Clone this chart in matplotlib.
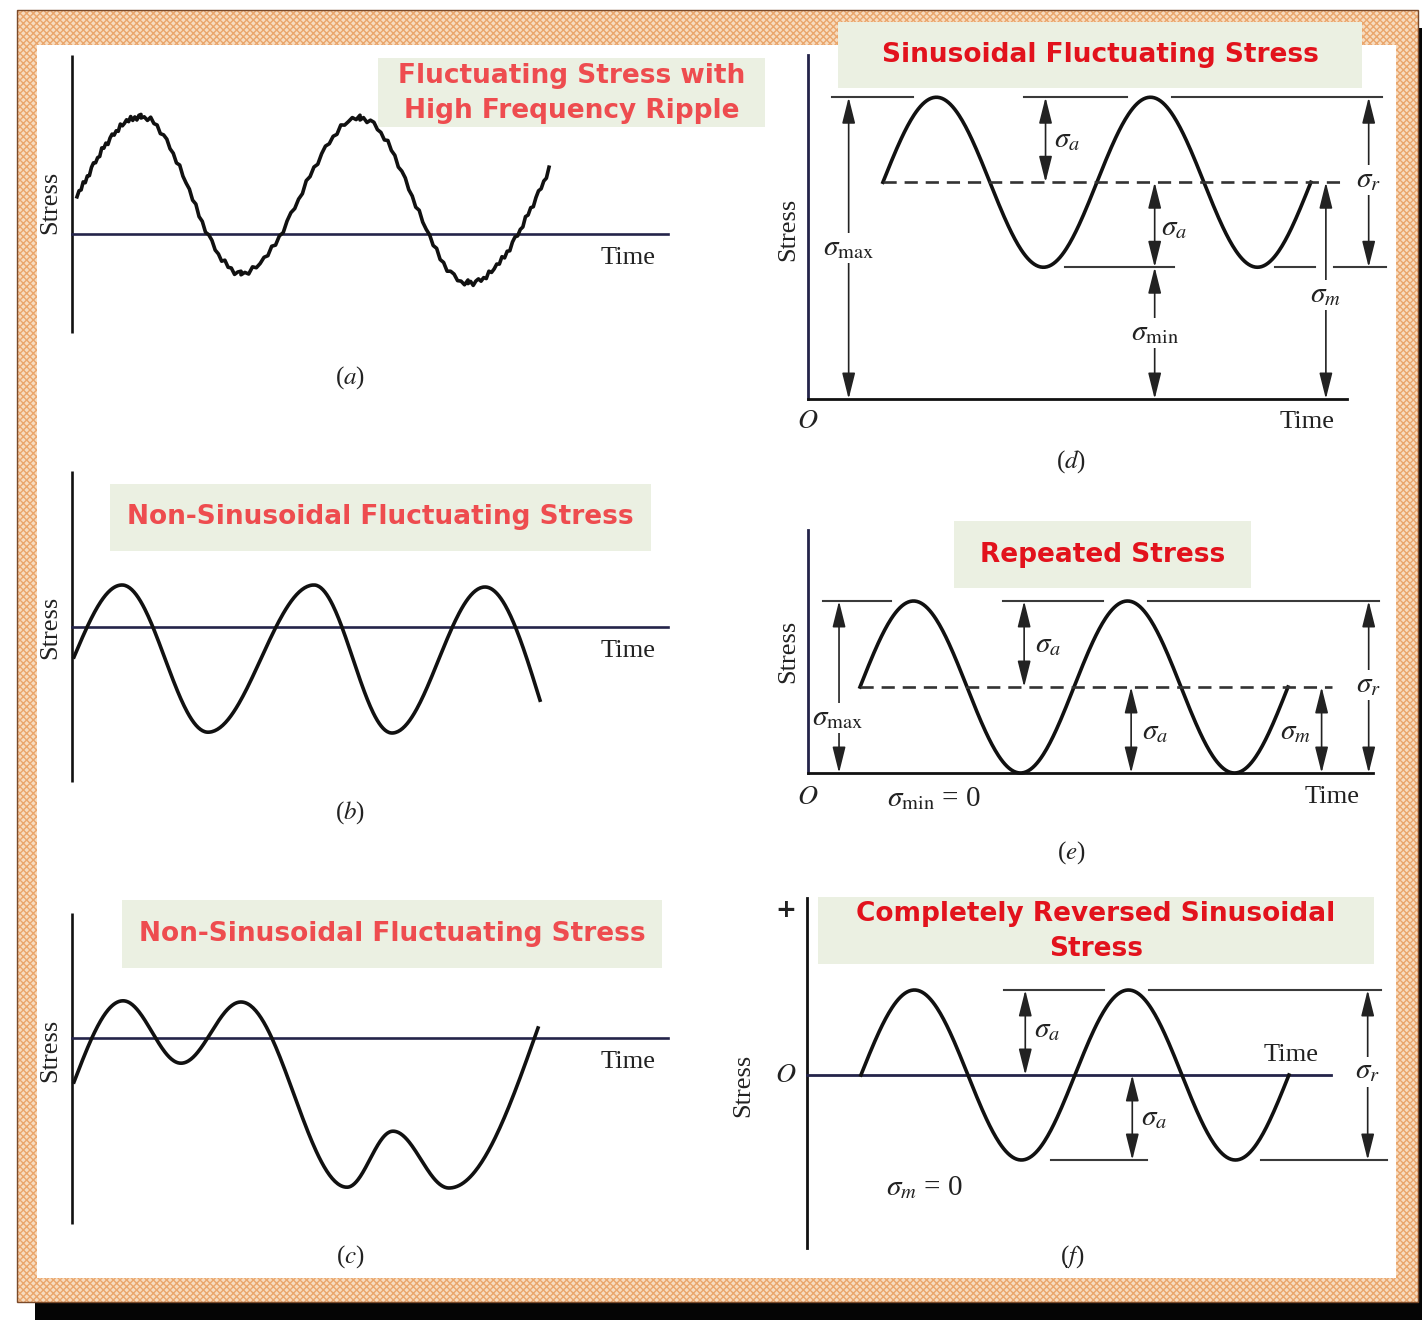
import numpy as np
import matplotlib.pyplot as plt
from matplotlib.patches import Rectangle

plt.rcParams['mathtext.fontset'] = 'stix'
plt.rcParams['hatch.linewidth'] = 1.0

W, H = 1422, 1320

# ---- data -------------------------------------------------------------
# (a) ripple-loaded fluctuating stress: turning points (time, stress)
a_t = [0.05, 0.69, 1.69, 2.88, 3.96, 4.77]
a_s = [0.93, 2.93, -0.98, 2.90, -1.23, 1.60]
a_ripple = [0.0, 0.05, -0.03, 0.07, -0.05, 0.02, -0.07, 0.04, 0.06, -0.03, 0.01,
            -0.05, 0.08, -0.01, 0.04, -0.07, 0.02, 0.05, -0.04, 0.01, -0.06, 0.07, -0.02]

# (b) non-sinusoidal
b_t = [0.02, 0.50, 1.36, 2.42, 3.20, 4.13, 4.68]
b_s = [-0.75, 1.05, -2.63, 1.05, -2.65, 1.00, -1.83]

# (c) non-sinusoidal, irregular
c_t = [0.02, 0.51, 1.09, 1.69, 2.75, 3.21, 3.77, 4.66]
c_s = [-1.10, 0.93, -0.63, 0.90, -3.73, -2.33, -3.75, 0.25]

# (d) sinusoidal fluctuating: mean and amplitude (stress units), start (periods)
d_mean, d_amp, d_t0 = 2.55, 1.0, 0.35
# (e) repeated: sigma_min = 0
e_mean, e_amp, e_t0 = 1.0, 1.0, 0.243
# (f) completely reversed: sigma_m = 0
f_mean, f_amp, f_t0 = 0.0, 1.0, 0.252
n_periods = 2

titles = {
    'a': "Fluctuating Stress with\nHigh Frequency Ripple",
    'b': "Non-Sinusoidal Fluctuating Stress",
    'c': "Non-Sinusoidal Fluctuating Stress",
    'd': "Sinusoidal Fluctuating Stress",
    'e': "Repeated Stress",
    'f': "Completely Reversed Sinusoidal\nStress",
}

# ---- styles -----------------------------------------------------------
INK = '#111111'
NAVY = '#24244a'
GREY = '#3a3a3a'
BOX = '#ebf0e2'
RED_L = '#ee4c4f'
RED_R = '#e2121c'
SERIF = 'Liberation Serif'
TITLE_FONT = 'DejaVu Sans'


def through_extrema(ts, ys, n=80):
    xs, vs = [], []
    last = len(ts) - 2
    for i in range(len(ts) - 1):
        f = np.linspace(0, 1, n)
        if i == 0:
            w = np.sin(np.pi / 2 * f)
        elif i == last:
            w = 1 - np.cos(np.pi / 2 * f)
        else:
            w = (1 - np.cos(np.pi * f)) / 2
        xs.append(ts[i] + (ts[i + 1] - ts[i]) * f)
        vs.append(ys[i] + (ys[i + 1] - ys[i]) * w)
    return np.concatenate(xs), np.concatenate(vs)


def panel(fig, ox, oy, sx, sy):
    ax = fig.add_axes([0, 0, 1, 1])
    ax.set_xlim(-ox / sx, (W - ox) / sx)
    ax.set_ylim((oy - H) / sy, oy / sy)
    ax.axis('off')
    ax.patch.set_visible(False)
    return ax


def darrow(ax, x, y0, y1):
    ax.annotate('', xy=(x, y1), xytext=(x, y0),
                arrowprops=dict(arrowstyle='<|-|>,head_length=0.8,head_width=0.2',
                                color='#222222', lw=1.2, shrinkA=0, shrinkB=0,
                                mutation_scale=20))


def lab(ax, x, y, s, size=21, bg=True, family=SERIF, **kw):
    bbox = dict(facecolor='white', edgecolor='none', pad=1.5) if bg else None
    ax.text(x, y, s, fontsize=size, ha='center', va='center', color='#222222',
            family=family, bbox=bbox, **kw)


fig = plt.figure(figsize=(W / 100, H / 100), dpi=100)
fig.patch.set_facecolor('white')

# ---- frame ------------------------------------------------------------
bg = fig.add_axes([0, 0, 1, 1])
bg.set_xlim(0, W)
bg.set_ylim(H, 0)
bg.axis('off')
bg.add_patch(Rectangle((35, 28), W - 35, H - 28, facecolor='#050505', edgecolor='none'))
bg.add_patch(Rectangle((17, 10), 1401, 1292, facecolor='#f7dcc0', edgecolor='#eaa66c',
                       hatch='xxxxx', lw=0))
bg.add_patch(Rectangle((17, 10), 1401, 1292, facecolor='none', edgecolor='#7a4a2a', lw=1))
bg.add_patch(Rectangle((37, 45), 1359, 1233, facecolor='white', edgecolor='none'))

title_boxes = {
    'a': (378, 58, 387, 69, RED_L),
    'b': (110, 484, 541, 67, RED_L),
    'c': (122, 900, 540, 68, RED_L),
    'd': (838, 22, 524, 66, RED_R),
    'e': (954, 521, 297, 67, RED_R),
    'f': (818, 897, 556, 67, RED_R),
}
for k, (x, y, w, h, col) in title_boxes.items():
    bg.add_patch(Rectangle((x, y), w, h, facecolor=BOX, edgecolor='none'))
    bg.text(x + w / 2, y + h / 2 + (1 if '\n' in titles[k] else 0), titles[k],
            ha='center', va='center', color=col,
            fontsize=19, family=TITLE_FONT, weight='bold', linespacing=1.42)

# ---- (a), (b), (c) ----------------------------------------------------
left_panels = [
    ('a', 234, a_t, a_s, (4.48, -2.48), 0.80, -3.6),
    ('b', 627, b_t, b_s, (3.9, -3.88), -0.02, -4.65),
    ('c', 1038, c_t, c_s, (3.12, -4.65), -0.3, -5.47),
]
for key, oy, ts, ss, (top, bot), stress_y, tag_y in left_panels:
    ax = panel(fig, 72, oy, 100, 40)
    ax.plot([0, 0], [bot, top], color=INK, lw=1.9, solid_capstyle='butt')
    ax.plot([0, 5.96], [0, 0], color=NAVY, lw=1.9)
    if key == 'a':
        x, y = through_extrema(ts, ss, n=32)
        y = y + np.resize(a_ripple, len(y))
        ax.plot(x, y, color=INK, lw=2.6, solid_joinstyle='round')
    else:
        x, y = through_extrema(ts, ss, n=80)
        ax.plot(x, y, color=INK, lw=2.6)
    lab(ax, 5.56, -0.6, 'Time', size=19, bg=False)
    lab(ax, -0.22, stress_y, 'Stress', size=19, bg=False, rotation=90)
    lab(ax, 2.78, tag_y, '($%s$)' % key, size=18, bg=False)

# ---- (d) sinusoidal fluctuating --------------------------------------
ax = panel(fig, 808, 399, 214, 85)
smax, smin = d_mean + d_amp, d_mean - d_amp
ax.plot([0, 0], [0, 4.05], color=NAVY, lw=2.0)
ax.plot([0, 2.52], [0, 0], color=INK, lw=2.0)
t = np.linspace(d_t0, d_t0 + n_periods, 400)
ax.plot(t, d_mean + d_amp * np.sin(2 * np.pi * (t - d_t0)), color=INK, lw=2.6)
ax.plot([d_t0, 2.49], [d_mean, d_mean], color='#333333', lw=1.9, ls=(0, (5, 3)))
for x0, x1 in [(0.11, 0.49), (1.01, 1.49), (1.70, 2.68)]:
    ax.plot([x0, x1], [smax, smax], color=GREY, lw=1.5)
for x0, x1 in [(1.20, 1.71), (2.18, 2.37), (2.46, 2.70)]:
    ax.plot([x0, x1], [smin, smin], color=GREY, lw=1.5)
darrow(ax, 0.19, 0, smax)
darrow(ax, 1.11, d_mean, smax)
darrow(ax, 1.62, d_mean, smin)
darrow(ax, 1.62, smin, 0)
darrow(ax, 2.42, 0, d_mean)
darrow(ax, 2.62, smin, smax)
lab(ax, 0.19, 1.78, r'$\sigma_{\rm max}$')
lab(ax, 1.21, 3.05, r'$\sigma_a$', bg=False)
lab(ax, 1.71, 2.01, r'$\sigma_a$', bg=False)
lab(ax, 1.62, 0.78, r'$\sigma_{\rm min}$')
lab(ax, 2.42, 1.22, r'$\sigma_m$')
lab(ax, 2.62, 2.58, r'$\sigma_r$')
lab(ax, 0.0, -0.27, r'$O$', size=20, bg=False)
lab(ax, 2.33, -0.27, 'Time', size=19, bg=False)
lab(ax, 1.23, -0.74, '($d$)', size=18, bg=False)
lab(ax, -0.093, 2.0, 'Stress', size=19, bg=False, rotation=90)

# ---- (e) repeated -----------------------------------------------------
ax = panel(fig, 808, 773, 214, 86)
smax = e_mean + e_amp
ax.plot([0, 0], [0, 2.83], color=NAVY, lw=2.0)
ax.plot([0, 2.64], [0, 0], color=INK, lw=2.0)
t = np.linspace(e_t0, e_t0 + n_periods, 400)
ax.plot(t, e_mean + e_amp * np.sin(2 * np.pi * (t - e_t0)), color=INK, lw=2.6)
ax.plot([e_t0, 2.45], [e_mean, e_mean], color='#333333', lw=1.9, ls=(0, (5, 3)))
for x0, x1 in [(0.07, 0.39), (0.91, 1.38), (1.59, 2.67)]:
    ax.plot([x0, x1], [smax, smax], color=GREY, lw=1.5)
darrow(ax, 0.145, 0, smax)
darrow(ax, 1.01, e_mean, smax)
darrow(ax, 1.51, 0, e_mean)
darrow(ax, 2.40, 0, e_mean)
darrow(ax, 2.62, 0, smax)
lab(ax, 0.14, 0.64, r'$\sigma_{\rm max}$')
lab(ax, 1.12, 1.49, r'$\sigma_a$', bg=False)
lab(ax, 1.62, 0.47, r'$\sigma_a$', bg=False)
lab(ax, 2.28, 0.47, r'$\sigma_m$', bg=False)
lab(ax, 2.62, 1.02, r'$\sigma_r$')
lab(ax, 0.0, -0.28, r'$O$', size=20, bg=False)
lab(ax, 0.59, -0.30, r'$\sigma_{\rm min}$ = 0', bg=False)
lab(ax, 2.45, -0.28, 'Time', size=19, bg=False)
lab(ax, 1.23, -0.92, '($e$)', size=18, bg=False)
lab(ax, -0.093, 1.41, 'Stress', size=19, bg=False, rotation=90)

# ---- (f) completely reversed ------------------------------------------
ax = panel(fig, 807, 1075, 214, 85)
smax, smin = f_mean + f_amp, f_mean - f_amp
ax.plot([0, 0], [-2.04, 2.08], color=INK, lw=2.0)
ax.plot([0, 2.45], [0, 0], color=NAVY, lw=2.0)
t = np.linspace(f_t0, f_t0 + n_periods, 400)
ax.plot(t, f_mean + f_amp * np.sin(2 * np.pi * (t - f_t0)), color=INK, lw=2.6)
for x0, x1 in [(0.92, 1.39), (1.60, 2.68)]:
    ax.plot([x0, x1], [smax, smax], color=GREY, lw=1.5)
for x0, x1 in [(1.14, 1.59), (2.12, 2.71)]:
    ax.plot([x0, x1], [smin, smin], color=GREY, lw=1.5)
darrow(ax, 1.02, f_mean, smax)
darrow(ax, 1.52, smin, f_mean)
darrow(ax, 2.62, smin, smax)
lab(ax, 1.12, 0.53, r'$\sigma_a$', bg=False)
lab(ax, 1.62, -0.51, r'$\sigma_a$', bg=False)
lab(ax, 2.62, 0.04, r'$\sigma_r$')
lab(ax, -0.10, 0.0, r'$O$', size=20, bg=False)
lab(ax, -0.10, 1.94, '+', size=18, bg=False, weight='bold', family='DejaVu Sans')
lab(ax, 2.26, 0.24, 'Time', size=19, bg=False)
lab(ax, 0.55, -1.32, r'$\sigma_m$ = 0', bg=False)
lab(ax, 1.24, -2.14, '($f$)', size=18, bg=False)
lab(ax, -0.30, -0.12, 'Stress', size=19, bg=False, rotation=90)

fig.savefig('out.png', dpi=100)
